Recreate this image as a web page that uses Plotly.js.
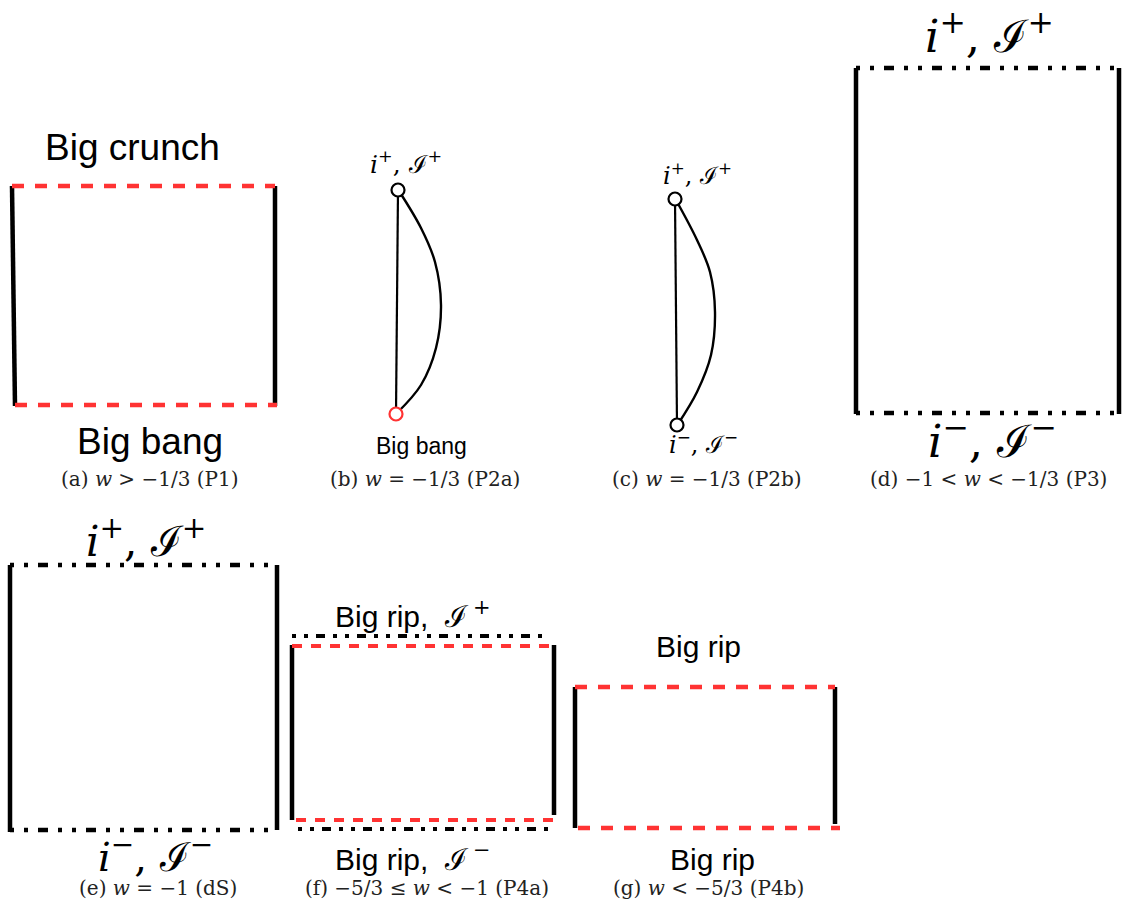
<!DOCTYPE html>
<html>
<head>
<meta charset="utf-8">
<script src="https://cdn.plot.ly/plotly-3.0.1.min.js"></script>
<style>html,body{margin:0;padding:0;background:#fff;}#chart{width:1124px;height:912px;}</style>
</head>
<body>
<div id="chart"></div>
<script>
// ---- Data (diagram coordinates, pixel space) ----
// Solid timelike boundaries (thick)
const solidThickX = [12, 15, null, 275, 275, null, 856, 856, null, 1119, 1119, null, 10, 10, null, 277, 277, null, 292, 292, null, 554, 554, null, 575, 575, null, 835, 835];
const solidThickY = [186, 406, null, 186, 406, null, 68, 414, null, 68, 414, null, 565, 832, null, 565, 830, null, 645, 820, null, 645, 815, null, 687, 828, null, 687, 824];
// Thin straight edges (P2a, P2b)
const thinX = [398, 396, null, 675, 677];
const thinY = [190, 414, null, 199, 425];
// Curved edges (P2a, P2b)
const curveBX = [399, 421, 435, 441, 436, 421, 397];
const curveBY = [191, 228, 262, 305, 348, 385, 413];
const curveCX = [676, 697, 710, 715, 711, 697, 678];
const curveCY = [200, 240, 272, 312, 355, 392, 424];
// Red dashed singular boundaries
const redDashX = [12, 275, null, 15, 277, null, 575, 835, null, 578, 840];
const redDashY = [186, 186, null, 405, 405, null, 687, 687, null, 828, 828];
const redDashFX = [292, 554, null, 296, 558];
const redDashFY = [646, 646, null, 820, 820];
// Black dash-dot null infinity boundaries
const dashDotX = [856, 1117, null, 856, 1117, null, 10, 277, null, 10, 277];
const dashDotY = [68, 68, null, 413, 413, null, 565, 565, null, 830, 830];
const dashDotFX = [292, 550, null, 298, 554];
const dashDotFY = [636, 636, null, 829, 829];
// Points (i+, i-)
const blackPtX = [398, 675, 677];
const blackPtY = [190, 199, 425];
const redPtX = [396];
const redPtY = [414];

// Labels
const IS = 'ℐ';
const scriSpan = (s) => '<span style="font-family:DejaVu Serif">' + IS + '\u2009<sup>' + s + '</sup></span>';
const labelTexts = [
  'Big crunch', 'Big bang', 'Big bang', 'Big rip,  ' + scriSpan('+'), 'Big rip,  ' + scriSpan('−'), 'Big rip', 'Big rip'
];
const labelX = [132, 150, 421, 413, 413, 698, 712];
const labelY = [147, 441, 446, 614, 857, 646, 859];
const labelSize = [37, 37, 23, 30, 30, 30, 30];

const mathTexts = [
  '<i>i</i><sup>+</sup>, ' + IS + '<sup>+</sup>',
  '<i>i</i><sup>+</sup>, ' + IS + '<sup>+</sup>',
  '<i>i</i><sup>−</sup>, ' + IS + '<sup>−</sup>',
  '<i>i</i><sup>+</sup>, ' + IS + '<sup>+</sup>',
  '<i>i</i><sup>−</sup>, ' + IS + '<sup>−</sup>',
  '<i>i</i><sup>+</sup>, ' + IS + '<sup>+</sup>',
  '<i>i</i><sup>−</sup>, ' + IS + '<sup>−</sup>'
];
const mathX = [406, 697, 703, 989, 992, 146, 155];
const mathY = [162, 174, 443, 33, 438, 538, 854];
const mathSize = [25, 24, 24, 45, 45, 42, 40];

const captions = [
  '(a) <i>w</i> > −1/3 (P1)',
  '(b) <i>w</i> = −1/3 (P2a)',
  '(c) <i>w</i> = −1/3 (P2b)',
  '(d) −1 < <i>w</i> < −1/3 (P3)',
  '(e) <i>w</i> = −1 (dS)',
  '(f) −5/3 ≤ <i>w</i> < −1 (P4a)',
  '(g) <i>w</i> < −5/3 (P4b)'
];
const captionX = [150, 425, 707, 988, 158, 427, 708];
const captionY = [479, 479, 479, 479, 888, 888, 888];

// ---- Traces ----
const traces = [
  {x: solidThickX, y: solidThickY, mode: 'lines', line: {color: '#000', width: 4.5}, connectgaps: false},
  {x: thinX, y: thinY, mode: 'lines', line: {color: '#000', width: 2.2}},
  {x: curveBX, y: curveBY, mode: 'lines', line: {color: '#000', width: 2.4, shape: 'spline'}},
  {x: curveCX, y: curveCY, mode: 'lines', line: {color: '#000', width: 2.4, shape: 'spline'}},
  {x: redDashX, y: redDashY, mode: 'lines', line: {color: '#ff3333', width: 4.5, dash: '12px,11px'}},
  {x: redDashFX, y: redDashFY, mode: 'lines', line: {color: '#ff3333', width: 4, dash: '10px,9px'}},
  {x: dashDotX, y: dashDotY, mode: 'lines', line: {color: '#000', width: 4.5, dash: '4px,10px,4px,10px,10px,10px'}},
  {x: dashDotFX, y: dashDotFY, mode: 'lines', line: {color: '#000', width: 4, dash: '4px,8px,4px,8px,9px,8px'}},
  {x: blackPtX, y: blackPtY, mode: 'markers', marker: {symbol: 'circle', size: 13, color: '#fff', line: {color: '#000', width: 2.2}}},
  {x: redPtX, y: redPtY, mode: 'markers', marker: {symbol: 'circle', size: 13, color: '#fff', line: {color: '#ff3333', width: 2.2}}}
];

const annotations = [];
labelTexts.forEach((t, i) => annotations.push({
  x: labelX[i], y: labelY[i], xref: 'x', yref: 'y', text: t, showarrow: false,
  xanchor: 'center', yanchor: 'middle',
  font: {family: 'Liberation Sans, Arial, sans-serif', size: labelSize[i], color: '#000'}
}));
mathTexts.forEach((t, i) => annotations.push({
  x: mathX[i], y: mathY[i], xref: 'x', yref: 'y', text: t, showarrow: false,
  xanchor: 'center', yanchor: 'middle',
  font: {family: 'DejaVu Serif, Liberation Serif, serif', size: mathSize[i], color: '#000'}
}));
captions.forEach((t, i) => annotations.push({
  x: captionX[i], y: captionY[i], xref: 'x', yref: 'y', text: t, showarrow: false,
  xanchor: 'center', yanchor: 'middle',
  font: {family: 'DejaVu Serif, Liberation Serif, serif', size: 20, color: '#222'}
}));

const layout = {
  width: 1124, height: 912,
  margin: {l: 0, r: 0, t: 0, b: 0},
  paper_bgcolor: '#fff', plot_bgcolor: '#fff',
  showlegend: false,
  xaxis: {range: [0, 1124], visible: false, fixedrange: true},
  yaxis: {range: [912, 0], visible: false, fixedrange: true},
  annotations: annotations
};

Plotly.newPlot('chart', traces, layout, {staticPlot: true, displayModeBar: false});
</script>
</body>
</html>
